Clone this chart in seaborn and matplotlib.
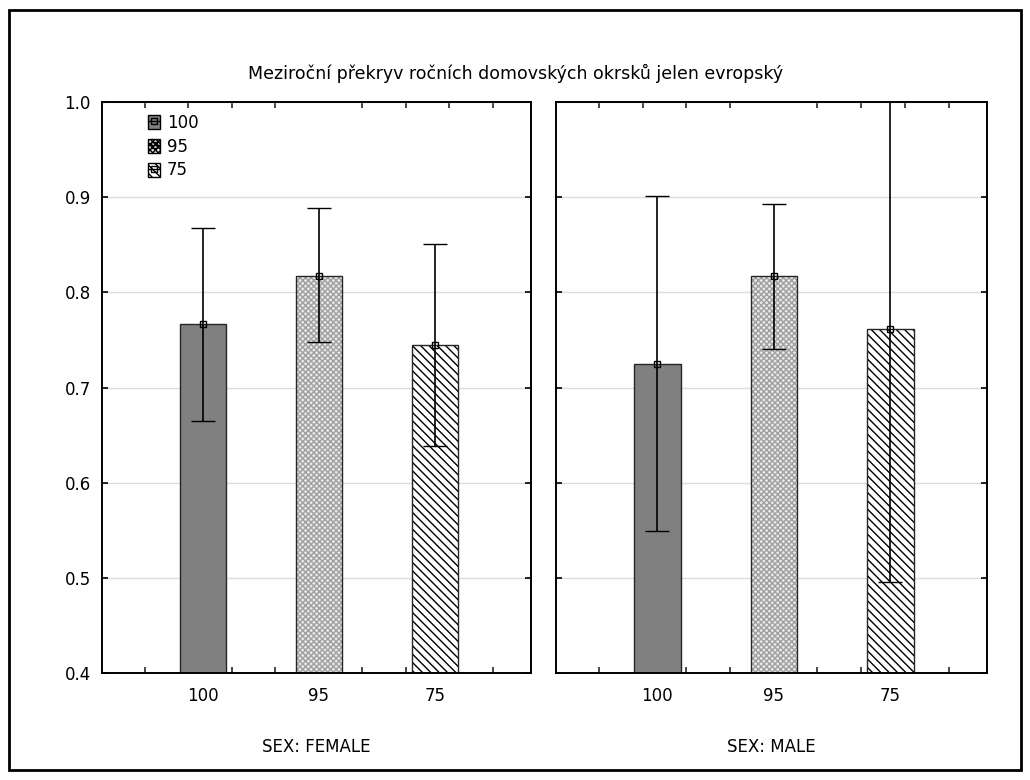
import matplotlib.pyplot as plt
import matplotlib.patches as mpatches
import matplotlib.lines as mlines
from matplotlib.colors import to_rgba
from matplotlib.ticker import MultipleLocator, FormatStrFormatter
import pandas as pd
import seaborn as sns

# data
levels = ["100", "95", "75"]
sexes = ["FEMALE", "MALE"]
means_female = [0.767, 0.817, 0.745]
lower_female = [0.665, 0.748, 0.639]
upper_female = [0.868, 0.889, 0.851]
means_male = [0.725, 0.817, 0.762]
lower_male = [0.549, 0.740, 0.496]
upper_male = [0.901, 0.893, 1.028]

title = "Meziroční překryv ročních domovských okrsků jelen evropský"

rows = []
for sex, m, lo, hi in [("FEMALE", means_female, lower_female, upper_female),
                       ("MALE", means_male, lower_male, upper_male)]:
    for lev, a, b, c in zip(levels, m, lo, hi):
        rows.append({"sex": sex, "level": lev, "mean": a, "lo": b, "hi": c})
df = pd.DataFrame(rows)

sns.set_theme(style="white")
plt.rcParams["font.family"] = ["DejaVu Sans"]
plt.rcParams["hatch.linewidth"] = 1.0
plt.rcParams["text.color"] = "black"

FS = 12
face = {"100": "#808080", "95": "#e8e8e8", "75": "white"}
hatch = {"100": None, "95": "xxxxxx", "75": "\\\\\\\\"}
hatch_col = {"100": "#404040", "95": "#a0a0a0", "75": "black"}

fig = plt.figure(figsize=(10.3, 7.8), dpi=100)
fig.patches.append(mpatches.Rectangle((0.0085, 0.013), 0.983, 0.974, transform=fig.transFigure,
                                      fill=False, edgecolor="black", linewidth=2))

axes = [fig.add_axes([0.099, 0.1372, 0.4165, 0.732]),
        fig.add_axes([0.5398, 0.1372, 0.4184, 0.732])]

for ax, sex in zip(axes, sexes):
    sub = df[df["sex"] == sex]
    sns.barplot(data=sub, x="level", y="mean", hue="level", order=levels, hue_order=levels,
                palette=face, width=0.4, errorbar=None, legend=False, ax=ax,
                edgecolor="#262626", linewidth=1.0, zorder=2)
    for cont, lev in zip(ax.containers, levels):
        for bar in cont:
            bar.set_facecolor(face[lev])
            if hatch[lev]:
                bar.set_hatch(hatch[lev])
                bar._hatch_color = to_rgba(hatch_col[lev])
    ax.errorbar(x=sub["level"], y=sub["mean"],
                yerr=[sub["mean"] - sub["lo"], sub["hi"] - sub["mean"]],
                fmt="s", ms=5, mfc="none", mec="black", mew=1.0,
                ecolor="black", elinewidth=1.2, capsize=8.6, capthick=1.8, zorder=4)

    ax.set_ylim(0.4, 1.0)
    ax.set_xlim(-0.87, 2.83)
    ax.yaxis.set_major_locator(MultipleLocator(0.1))
    ax.yaxis.set_major_formatter(FormatStrFormatter("%.1f"))
    ax.grid(axis="y", color="#dcdcdc", linewidth=1.0, zorder=0)
    ax.set_axisbelow(True)
    for s in ax.spines.values():
        s.set_visible(True)
        s.set_color("black")
        s.set_linewidth(1.4)
    ax.xaxis.set_minor_locator(MultipleLocator(0.375, offset=-0.5))
    ax.tick_params(axis="x", which="major", length=0, labelsize=FS, pad=10, colors="black")
    ax.tick_params(axis="x", which="minor", direction="in", length=4, width=1.2,
                   top=True, bottom=True)
    ax.tick_params(axis="y", which="major", direction="in", length=4, width=1.2,
                   left=True, right=True, labelsize=FS, pad=8, colors="black")
    ax.set_ylabel("")
    ax.set_xlabel(f"SEX: {sex}", fontsize=FS, labelpad=24, color="black")

axes[1].tick_params(axis="y", labelleft=False)

handles = []
for lev in levels:
    p = mpatches.Patch(facecolor=face[lev], edgecolor="black", linewidth=1.0,
                       hatch=hatch[lev])
    m = mlines.Line2D([], [], color="black", marker="s", ms=4.5, mfc="none", mec="black",
                      linewidth=1.0)
    handles.append((p, m))
axes[0].legend(handles, levels, loc="upper left", bbox_to_anchor=(0.08, 1.0),
               frameon=False, fontsize=FS, handlelength=0.75, handleheight=0.9,
               handletextpad=0.4, labelspacing=0.35, borderaxespad=0.3,
               labelcolor="black")

fig.suptitle(title, x=0.501, y=0.906, fontsize=12.5, va="center", color="black")

fig.savefig("out.png", dpi=100, facecolor="white")
